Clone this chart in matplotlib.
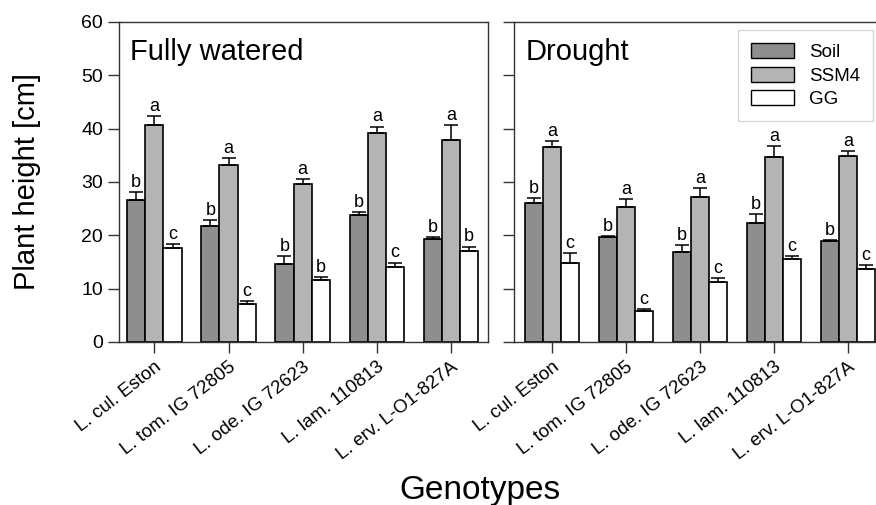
import numpy as np
import matplotlib
matplotlib.use('Agg')
import matplotlib.pyplot as plt
from matplotlib.patches import Patch

plt.rcParams['font.family'] = ['Liberation Sans', 'DejaVu Sans']

# --- dane ---
genotypes = ['L. cul. Eston', 'L. tom. IG 72805', 'L. ode. IG 72623',
             'L. lam. 110813', 'L. erv. L-O1-827A']
series = ['Soil', 'SSM4', 'GG']

fw_soil = [26.7, 21.75, 14.6, 23.9, 19.25]
fw_ssm4 = [40.6, 33.1, 29.6, 39.1, 37.9]
fw_gg = [17.6, 7.2, 11.6, 14.0, 17.1]
fw_soil_err = [1.4, 1.15, 1.5, 0.5, 0.45]
fw_ssm4_err = [1.7, 1.4, 1.0, 1.3, 2.7]
fw_gg_err = [0.8, 0.55, 0.65, 0.9, 0.8]
fw_letters = [['b', 'b', 'b', 'b', 'b'],
              ['a', 'a', 'a', 'a', 'a'],
              ['c', 'c', 'b', 'c', 'b']]

dr_soil = [26.0, 19.6, 16.8, 22.3, 18.9]
dr_ssm4 = [36.6, 25.3, 27.1, 34.6, 34.9]
dr_gg = [14.9, 5.9, 11.3, 15.6, 13.6]
dr_soil_err = [1.0, 0.35, 1.3, 1.7, 0.15]
dr_ssm4_err = [1.0, 1.5, 1.8, 2.1, 0.85]
dr_gg_err = [1.7, 0.3, 0.7, 0.5, 0.8]
dr_letters = [['b', 'b', 'b', 'b', 'b'],
              ['a', 'a', 'a', 'a', 'a'],
              ['c', 'c', 'c', 'c', 'c']]

colors = ['#8e8e8e', '#b4b4b4', '#ffffff']
width = 0.245
spine_col = '#333333'

fig = plt.figure(figsize=(8.76, 5.05), dpi=100)
ax1 = fig.add_axes([119 / 876, 163 / 505, 369 / 876, 320 / 505])
ax2 = fig.add_axes([514 / 876, 163 / 505, 371 / 876, 320 / 505])


def draw_panel(ax, means, errs, letters, title, xlim):
    x = np.arange(len(genotypes))
    for i, (m, e) in enumerate(zip(means, errs)):
        pos = x + (i - 1) * width
        ax.bar(pos, m, width, color=colors[i], edgecolor='black',
               linewidth=1.2, zorder=2)
        ax.errorbar(pos, m, yerr=[np.zeros(len(m)), e], fmt='none',
                    ecolor='black', elinewidth=1.1, capsize=5,
                    capthick=1.1, zorder=3)
        for p, v, ee, lab in zip(pos, m, e, letters[i]):
            ax.text(p, v + ee + 0.2, lab, ha='center', va='bottom',
                    fontsize=13)
    ax.set_xlim(*xlim)
    ax.set_ylim(0, 60)
    ax.set_yticks(range(0, 61, 10))
    ax.set_xticks(x)
    ax.set_xticklabels(genotypes, rotation=38, ha='right',
                       rotation_mode='anchor', fontsize=13.5)
    ax.tick_params(axis='both', direction='out', length=8, width=1,
                   color=spine_col, labelsize=14)
    ax.tick_params(axis='x', labelsize=13.5, pad=4)
    for s in ax.spines.values():
        s.set_color(spine_col)
        s.set_linewidth(1.0)
    ax.text(0.03, 0.95, title, transform=ax.transAxes, ha='left',
            va='top', fontsize=21)


draw_panel(ax1, [fw_soil, fw_ssm4, fw_gg],
           [fw_soil_err, fw_ssm4_err, fw_gg_err], fw_letters,
           'Fully watered', (-0.477, 4.5))
draw_panel(ax2, [dr_soil, dr_ssm4, dr_gg],
           [dr_soil_err, dr_ssm4_err, dr_gg_err], dr_letters,
           'Drought', (-0.51, 4.5))
ax2.set_yticklabels([])

ax1.set_ylabel('Plant height [cm]', fontsize=21, labelpad=29)
fig.text(480 / 876, 1 - 499 / 505, 'Genotypes', ha='center',
         va='baseline', fontsize=24)

handles = [Patch(facecolor=c, edgecolor='black', linewidth=1.0)
           for c in colors]
leg = fig.legend(handles, series, loc='upper right',
                 bbox_to_anchor=(873 / 876, 1 - 30 / 505), fontsize=13.5,
                 frameon=True, fancybox=False, handlelength=2.3,
                 handleheight=0.85, labelspacing=0.3, borderpad=0.7,
                 handletextpad=0.8, borderaxespad=0)
leg.get_frame().set_edgecolor('#cccccc')
leg.get_frame().set_linewidth(1.0)

fig.savefig('out.png', dpi=100)
